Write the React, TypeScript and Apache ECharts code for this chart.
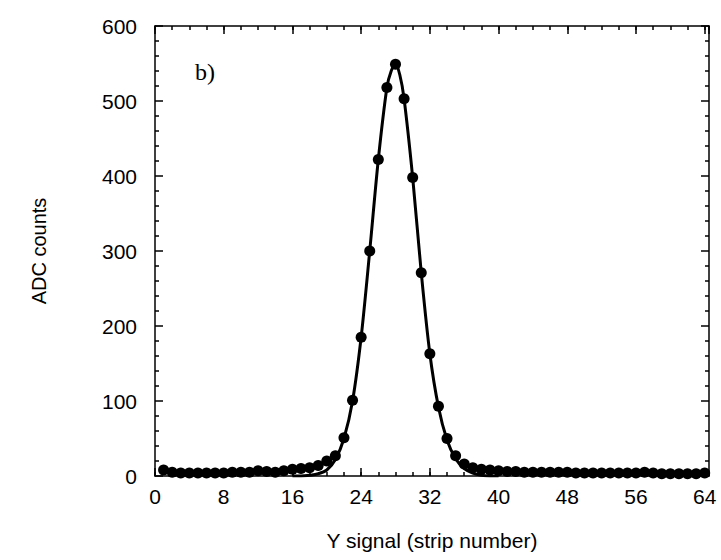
import React, { useEffect, useRef } from "react";
import * as echarts from "echarts";

const strips: number[] = [
  1, 2, 3, 4, 5, 6, 7, 8, 9, 10, 11, 12, 13, 14, 15, 16,
  17, 18, 19, 20, 21, 22, 23, 24, 25, 26, 27, 28, 29, 30, 31, 32,
  33, 34, 35, 36, 37, 38, 39, 40, 41, 42, 43, 44, 45, 46, 47, 48,
  49, 50, 51, 52, 53, 54, 55, 56, 57, 58, 59, 60, 61, 62, 63, 64,
];
const adcCounts: number[] = [
  8, 5, 4, 4, 4, 4, 4, 4, 5, 5, 5, 7, 6, 5, 7, 9,
  10, 11, 14, 20, 27, 51, 101, 185, 300, 422, 518, 549, 503, 398, 271, 163,
  93, 50, 27, 16, 11, 9, 8, 7, 6, 6, 5, 5, 5, 5, 5, 5,
  4, 4, 4, 4, 4, 4, 4, 4, 5, 4, 3, 3, 3, 3, 3, 4,
];
const fitStrips: number[] = [
  16, 17, 18, 19, 20, 21, 22, 23, 24, 25, 26, 27, 27.5, 28, 28.5, 29, 30, 31, 32, 33, 34, 35, 36, 37, 38, 39, 40,
];
const fitCounts: number[] = [
  0, 0, 1, 3, 8, 22, 50, 100, 185, 300, 422, 518, 540, 549, 535, 503, 398, 271, 163, 92, 48, 23, 10, 4, 1, 0, 0,
];
const xTicks: number[] = [0, 8, 16, 24, 32, 40, 48, 56, 64];
const yTicks: number[] = [0, 100, 200, 300, 400, 500, 600];

const FONT = "'Liberation Sans', Arial, sans-serif";

export default function App() {
  const ref = useRef<HTMLDivElement>(null);
  useEffect(() => {
    if (!ref.current) return;
    const chart = echarts.init(ref.current, null, { renderer: "svg" });
    const axisLine = { show: true, onZero: false, lineStyle: { color: "#000", width: 1.5 } };
    const majorTick = { show: true, inside: true, length: 8, lineStyle: { color: "#000", width: 1.5 } };
    const minorTickX = { show: true, inside: true, length: 4, lineStyle: { color: "#000", width: 1.5 } };
    const xMajor = {
      type: "value" as const,
      min: 0,
      max: 64.5,
      interval: 8,
      axisLine,
      axisTick: majorTick,
      minorTick: { show: false },
      splitLine: { show: false },
    };
    const xMinor = {
      type: "value" as const,
      min: 0,
      max: 64.5,
      interval: 2,
      axisLine: { show: false, onZero: false },
      axisTick: minorTickX,
      axisLabel: { show: false },
      splitLine: { show: false },
    };
    const yCommon = {
      type: "value" as const,
      min: 0,
      max: 600,
      interval: 100,
      axisLine,
      axisTick: majorTick,
      minorTick: { show: true, splitNumber: 5, length: 4, lineStyle: { color: "#000", width: 1.5 } },
      splitLine: { show: false },
      minorSplitLine: { show: false },
    };
    chart.setOption({
      animation: false,
      backgroundColor: "#fff",
      grid: { left: 155, right: 12, top: 26, bottom: 84, containLabel: false },
      xAxis: [
        {
          ...xMajor,
          position: "bottom",
          name: "Y signal (strip number)",
          nameLocation: "middle",
          nameGap: 54,
          nameTextStyle: { fontFamily: FONT, fontSize: 21, color: "#000" },
          axisLabel: {
            show: true,
            margin: 10,
            fontFamily: FONT,
            fontSize: 21,
            color: "#000",
            showMaxLabel: false,
            formatter: (v: number) => (xTicks.includes(v) ? String(v) : ""),
          },
        },
        { ...xMajor, position: "top", axisLabel: { show: false } },
        { ...xMinor, position: "bottom" },
        { ...xMinor, position: "top" },
      ],
      yAxis: [
        {
          ...yCommon,
          position: "left",
          name: "ADC counts",
          nameLocation: "middle",
          nameGap: 106,
          nameRotate: 90,
          nameTextStyle: { fontFamily: FONT, fontSize: 20, color: "#000" },
          axisLabel: {
            show: true,
            margin: 18,
            fontFamily: FONT,
            fontSize: 21,
            color: "#000",
            formatter: (v: number) => (yTicks.includes(v) ? String(v) : ""),
          },
        },
        { ...yCommon, position: "right", axisLabel: { show: false } },
      ],
      graphic: [
        {
          type: "text",
          left: 195,
          top: 60,
          style: { text: "b)", fontFamily: "'Liberation Serif', 'Times New Roman', serif", fontSize: 24, fill: "#000" },
        },
      ],
      series: [
        {
          type: "line",
          name: "fit",
          xAxisIndex: 0,
          yAxisIndex: 0,
          data: fitStrips.map((x, i) => [x, fitCounts[i]]),
          smooth: 0.3,
          showSymbol: false,
          symbol: "none",
          lineStyle: { color: "#000", width: 3 },
          z: 2,
        },
        {
          type: "scatter",
          name: "data",
          xAxisIndex: 0,
          yAxisIndex: 0,
          data: strips.map((x, i) => [x, adcCounts[i]]),
          symbol: "circle",
          symbolSize: 11,
          itemStyle: { color: "#000", opacity: 1 },
          z: 3,
        },
      ],
    });
    return () => chart.dispose();
  }, []);
  return (
    <div
      ref={ref}
      style={{ position: "absolute", left: 0, top: 0, width: 721, height: 560 }}
    />
  );
}
